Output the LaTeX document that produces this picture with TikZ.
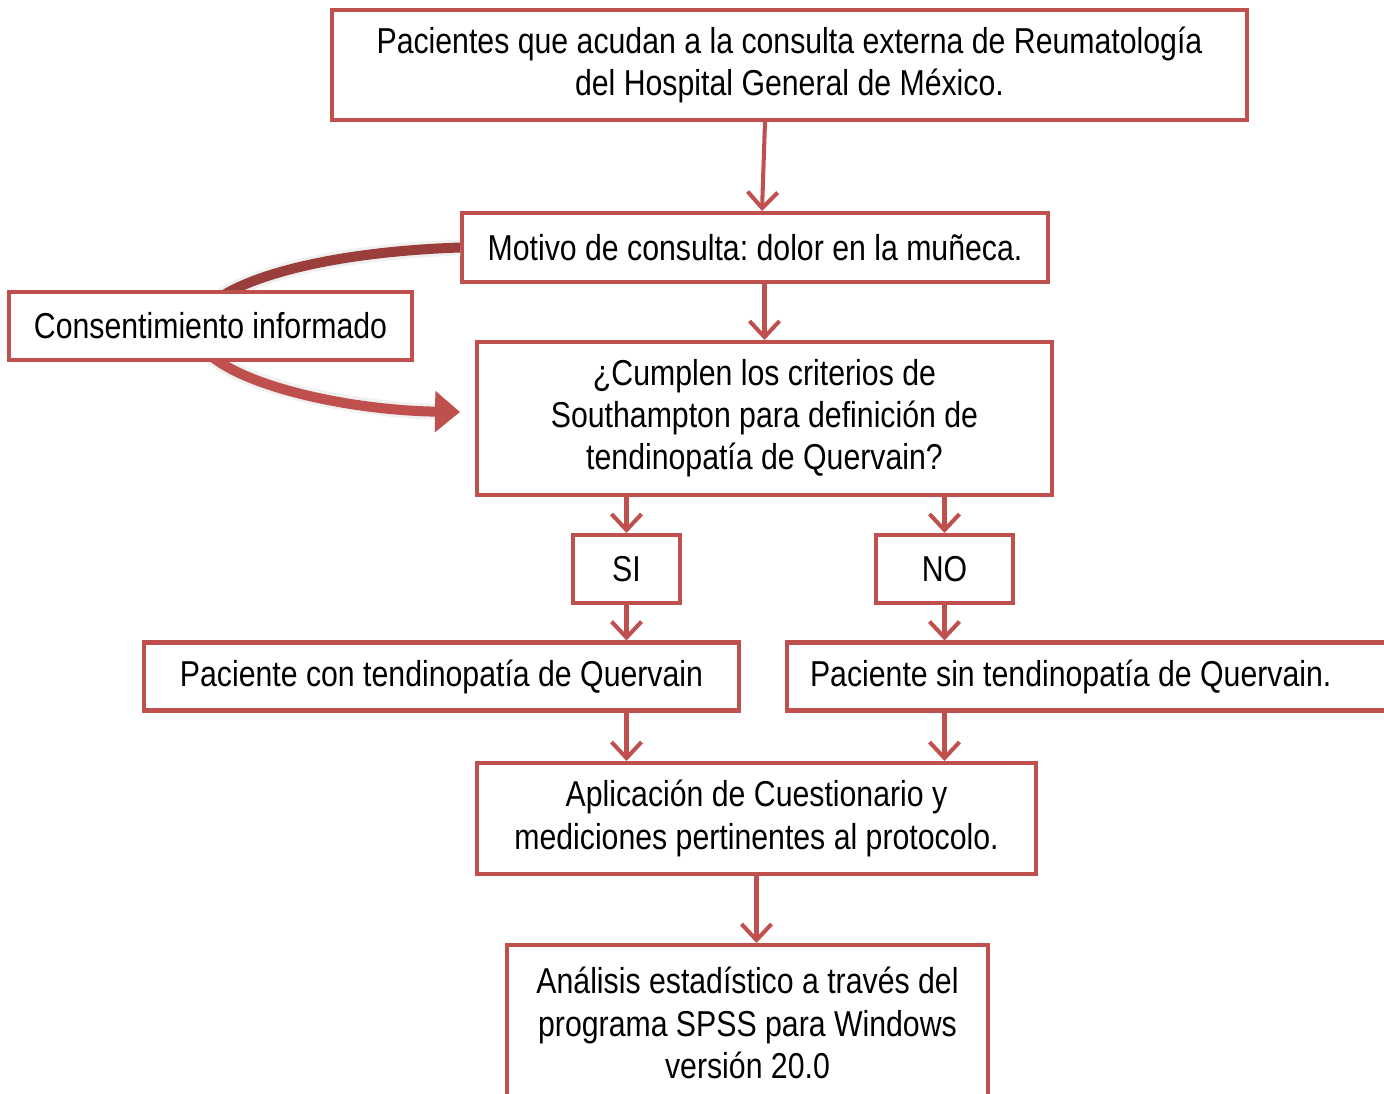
\documentclass[tikz,border=0pt]{standalone}
\usepackage{fontspec}
\setmainfont[FakeStretch=0.84]{Liberation Sans}
\usetikzlibrary{arrows.meta}
\frenchspacing

\definecolor{boxred}{HTML}{C0504D}
\definecolor{darkred}{HTML}{9A3E3B}

\tikzset{
    box/.style={draw=boxred, line width=2.3pt, fill=white, align=center, inner sep=0pt,
        font=\fontsize{20.5}{24}\selectfont},
    arr/.style={draw=boxred, line width=2.3pt, -{Straight Barb[length=0.32cm,width=0.6cm]}},
    curv/.style={line width=0.2cm, line cap=butt},
}

\begin{document}
\begin{tikzpicture}[x=0.02cm, y=-0.02cm]
    % \draw[help lines] (0,0) grid (1384,1093);
    \useasboundingbox (0,0) rectangle (1384,1093);
    \clip (0,0) rectangle (1384,1093);

    \node[box, minimum width=18.3cm, minimum height=2.2cm] (pac) at (789.5,65)
        {Pacientes que acudan a la consulta externa de Reumatología\\del Hospital General de México.};
    \node[box, minimum width=11.72cm, minimum height=1.38cm] (motivo) at (755,247.5)
        {Motivo de consulta: dolor en la muñeca.};
    \node[box, minimum width=11.5cm, minimum height=3.06cm] (crit) at (764.5,418.5)
        {¿Cumplen los criterios de\\Southampton para definición de\\tendinopatía de Quervain?};

    % curved arrow, passes behind the consent box
    \coordinate (bend) at (196,330);
    \draw[curv, gray!12, line width=0.32cm] (motivo.west) .. controls (300,253) and (196,290) .. (bend)
        .. controls (196,375) and (330,410) .. (445,412);
    \draw[curv, darkred] (motivo.west) .. controls (300,253) and (196,290) .. (bend);
    \draw[curv, boxred, -{Triangle[length=0.5cm,width=0.8cm]}] (bend)
        .. controls (196,375) and (330,410) .. ([xshift=-0.3cm]crit.west |- 0,412);

    \node[box, minimum width=8.06cm, minimum height=1.36cm] (consent) at (210.5,326)
        {Consentimiento informado};

    \node[box, minimum width=2.14cm, minimum height=1.36cm] (si) at (626.5,569) {SI};
    \node[box, minimum width=2.74cm, minimum height=1.36cm] (no) at (944.5,569) {NO};

    \node[box, minimum width=11.9cm, minimum height=1.36cm] (con) at (441.5,676.5)
        {Paciente con tendinopatía de Quervain};
    \node[box, anchor=west, align=flush left, text width=12.2cm, inner xsep=0.46cm, minimum height=1.36cm] (sin)
        at (785,676.5) {Paciente sin tendinopatía de Quervain.};

    \node[box, minimum width=11.18cm, minimum height=2.22cm] (aplic) at (756.5,818.5)
        {Aplicación de Cuestionario y\\mediciones pertinentes al protocolo.};
    \node[box, minimum width=9.62cm, minimum height=3.12cm] (anal) at (747.5,1023)
        {Análisis estadístico a través del\\programa SPSS para Windows\\versión 20.0};

    \draw[arr] ([xshift=-0.49cm]pac.south) -- ([xshift=0.14cm]motivo.north);
    \draw[arr] (motivo.south -| crit.north) -- (crit.north);
    \draw[arr] (crit.south -| si.north) -- (si.north);
    \draw[arr] (crit.south -| no.north) -- (no.north);
    \draw[arr] (si.south) -- (si.south |- con.north);
    \draw[arr] (no.south) -- (no.south |- sin.north);
    \draw[arr] (con.south -| si.south) -- (aplic.north -| si.south);
    \draw[arr] (sin.south -| no.south) -- (aplic.north -| no.south);
    \draw[arr] (aplic.south) -- (aplic.south |- anal.north);

\end{tikzpicture}
\end{document}
